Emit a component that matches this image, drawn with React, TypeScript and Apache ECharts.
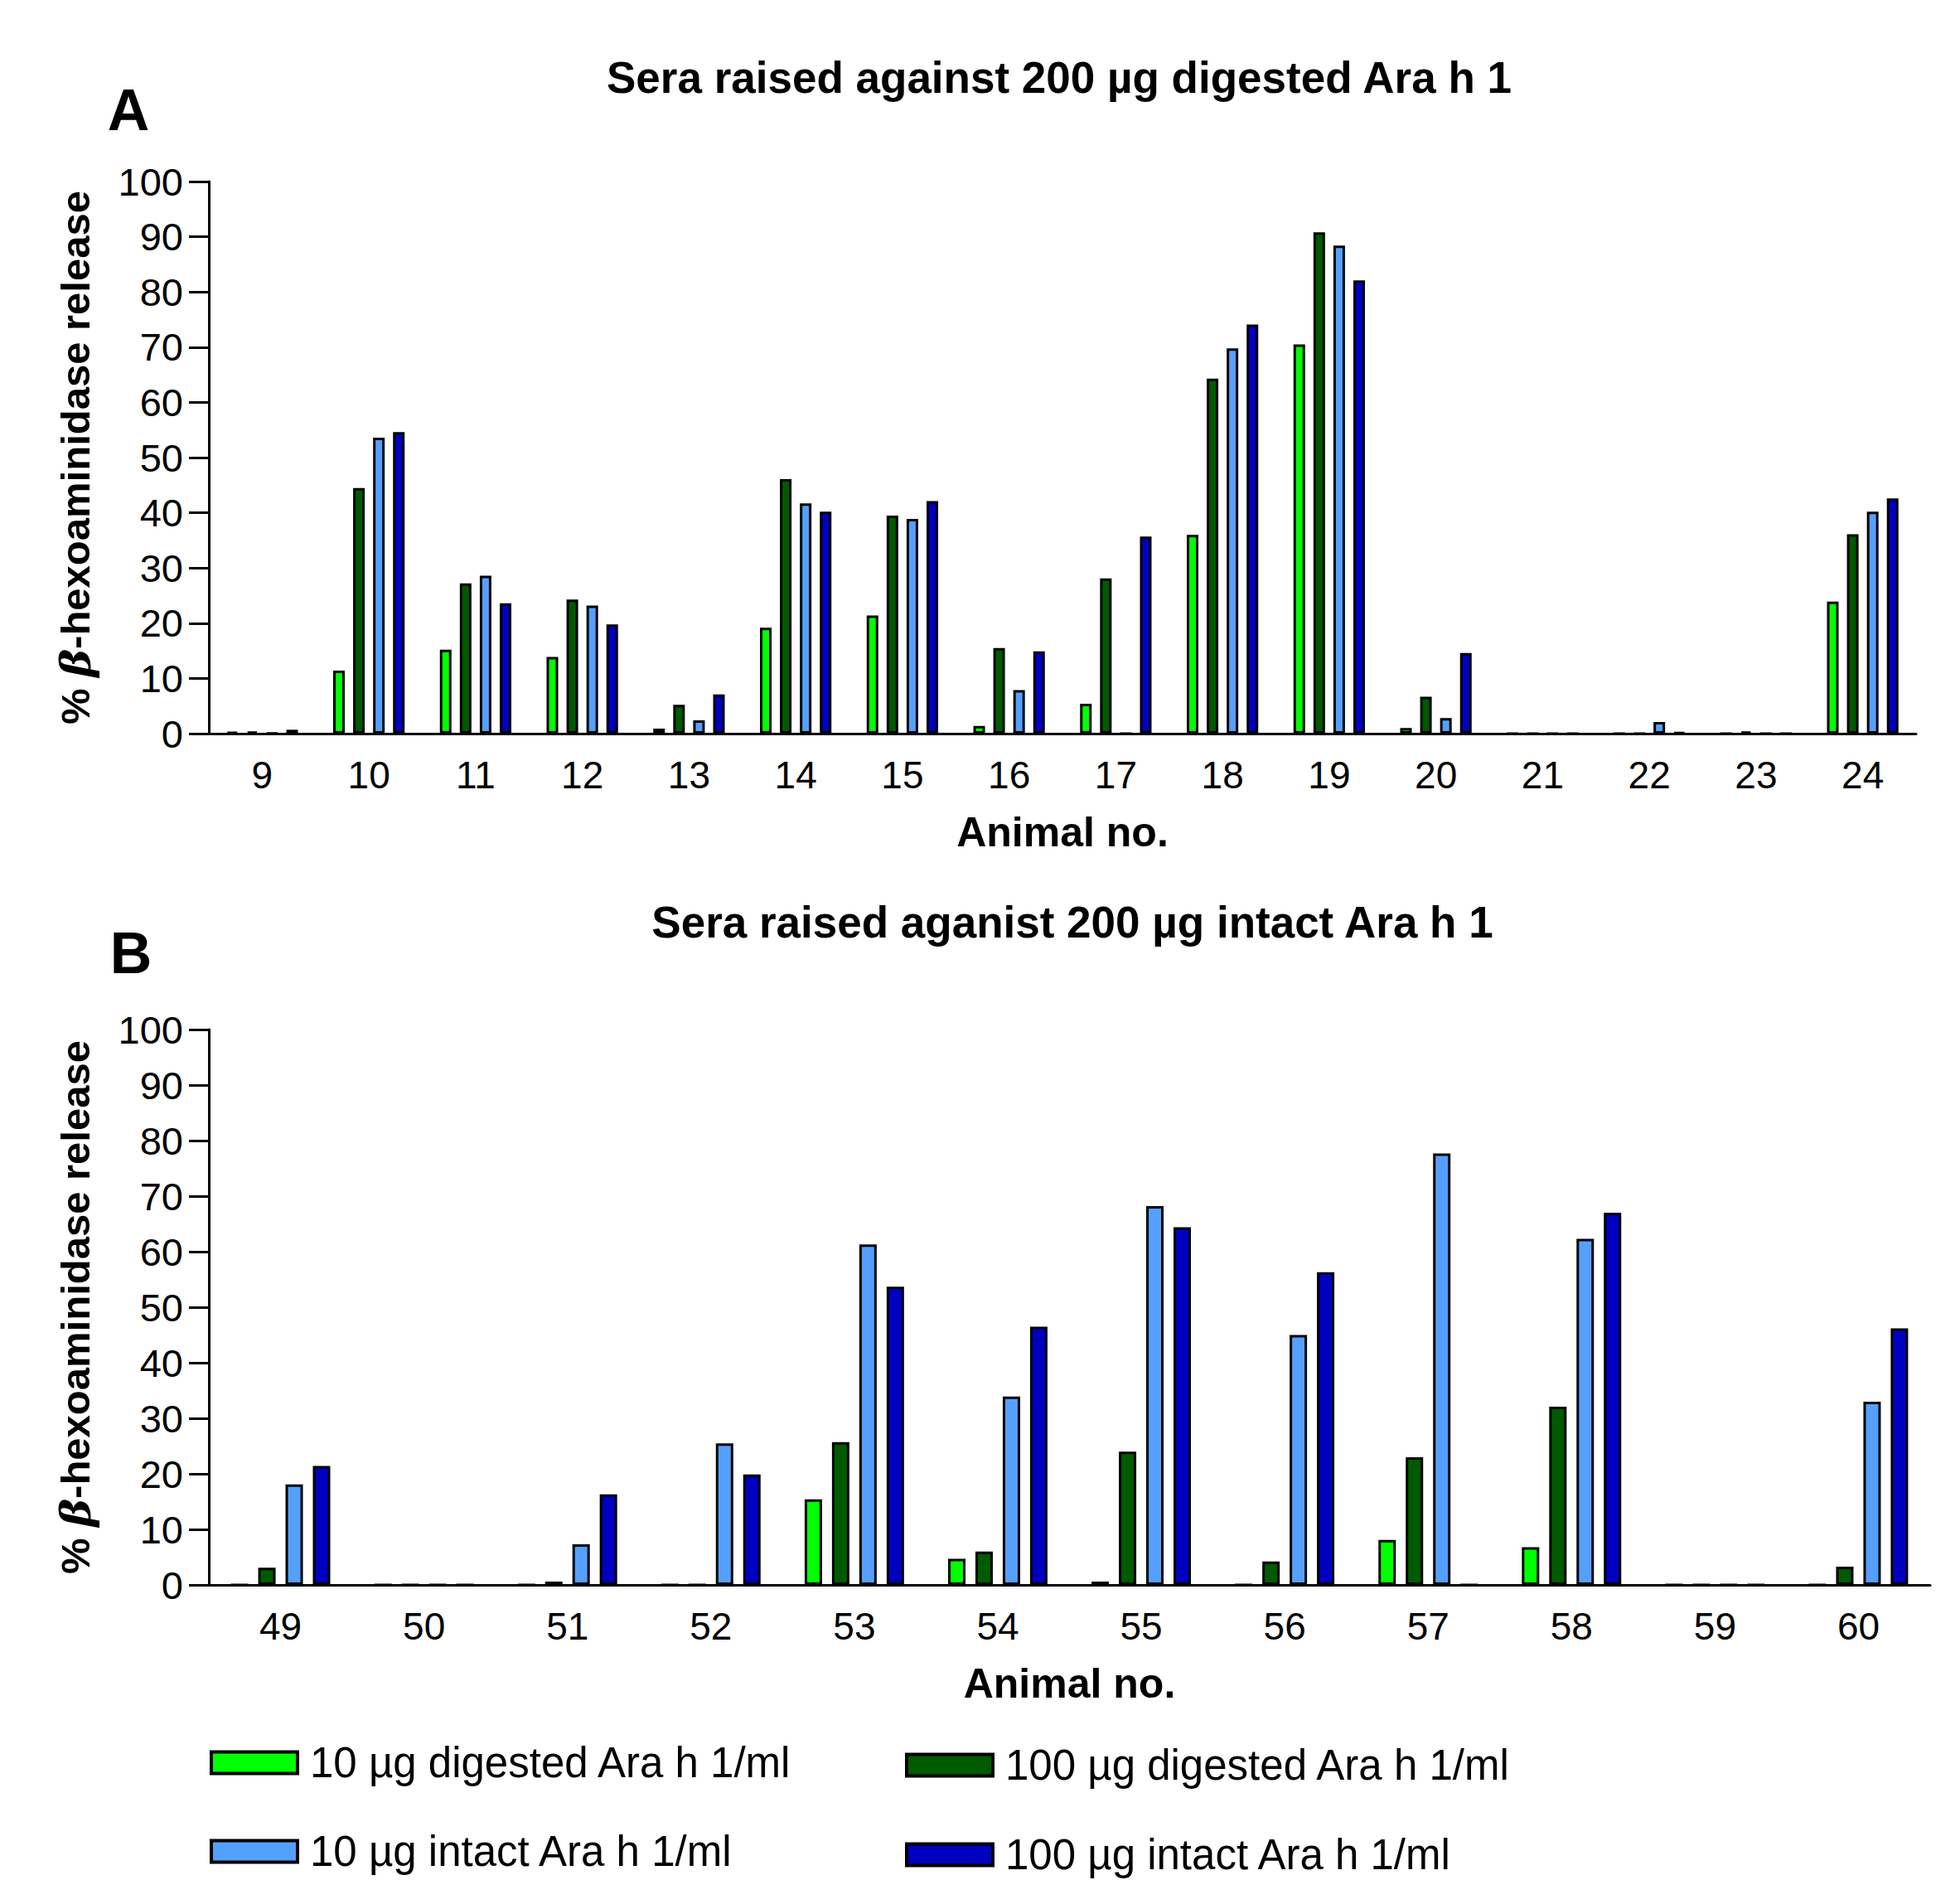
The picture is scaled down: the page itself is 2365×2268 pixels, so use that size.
import React, { useEffect, useRef } from "react";
import * as echarts from "echarts";

const FONT = '"Liberation Sans", Arial, Helvetica, sans-serif';

const categoriesA = ["9", "10", "11", "12", "13", "14", "15", "16", "17", "18", "19", "20", "21", "22", "23", "24"];
const categoriesB = ["49", "50", "51", "52", "53", "54", "55", "56", "57", "58", "59", "60"];

const seriesNames = [
  "10 µg digested Ara h 1/ml",
  "100 µg digested Ara h 1/ml",
  "10 µg intact Ara h 1/ml",
  "100 µg intact Ara h 1/ml",
];
const seriesColors = ["#00ff00", "#005a00", "#55a0ff", "#0000c0"];

// Panel A: sera raised against 200 µg digested Ara h 1
const digested10A = [0.3, 11.4, 15.2, 13.9, 0.9, 19.2, 21.4, 1.4, 5.4, 36.0, 70.5, 1.0, 0, 0, 0, 23.9];
const digested100A = [0.4, 44.5, 27.2, 24.3, 5.2, 46.1, 39.5, 15.5, 28.1, 64.3, 90.8, 6.7, 0, 0, 0.4, 36.1];
const intact10A = [0.1, 53.6, 28.6, 23.2, 2.4, 41.7, 38.9, 7.9, 0, 69.8, 88.4, 2.8, 0, 2.1, 0, 40.2];
const intact100A = [0.7, 54.6, 23.6, 19.8, 7.1, 40.2, 42.1, 14.9, 35.7, 74.1, 82.1, 14.6, 0, 0.2, 0, 42.6];

// Panel B: sera raised against 200 µg intact Ara h 1
const digested10B = [0, 0, 0, 0, 15.4, 4.7, 0.6, 0, 8.1, 6.8, 0, 0];
const digested100B = [3.1, 0, 0.6, 0, 25.7, 6.0, 24.0, 4.2, 23.0, 32.1, 0, 3.3];
const intact10B = [18.1, 0, 7.3, 25.5, 61.3, 33.9, 68.2, 45.0, 77.7, 62.3, 0, 33.0];
const intact100B = [21.4, 0, 16.3, 19.9, 53.7, 46.5, 64.4, 56.3, 0, 67.0, 0, 46.2];

const yTicks = { min: 0, max: 100, interval: 10 };

const titleA = "Sera raised against 200 µg digested Ara h 1";
const titleB = "Sera raised aganist 200 µg intact Ara h 1";
const xName = "Animal no.";
const yName = "% {b|β}-hexoaminidase release";

function makeXAxis(data: string[], gridIndex: number) {
  return {
    type: "category",
    gridIndex,
    data,
    axisLine: { lineStyle: { color: "#000", width: 3 } },
    axisTick: { show: false },
    axisLabel: { fontSize: 46, color: "#000", fontFamily: FONT, margin: 27 },
    name: xName,
    nameLocation: "middle",
    nameGap: 94,
    nameTextStyle: { fontSize: 50, fontWeight: "bold", color: "#000", fontFamily: FONT },
  };
}

function makeYAxis(gridIndex: number) {
  return {
    type: "value",
    gridIndex,
    min: yTicks.min,
    max: yTicks.max,
    interval: yTicks.interval,
    axisLine: { show: true, lineStyle: { color: "#000", width: 3 } },
    axisTick: { show: true, inside: false, length: 24, lineStyle: { color: "#000", width: 3 } },
    splitLine: { show: false },
    axisLabel: { fontSize: 47, color: "#000", fontFamily: FONT, margin: 31 },
    name: yName,
    nameLocation: "middle",
    nameRotate: 90,
    nameGap: 136,
    nameTextStyle: {
      fontSize: 49,
      fontWeight: "bold",
      color: "#000",
      fontFamily: FONT,
      rich: {
        b: { fontSize: 51, fontWeight: "bold", fontStyle: "italic", fontFamily: '"DejaVu Serif", serif', color: "#000" },
      },
    },
  };
}

function makeSeries(values: number[][], axisIndex: number, barWidth: number, barGap: string, bw: number) {
  return values.map((d, i) => ({
    type: "bar",
    name: seriesNames[i],
    data: d,
    xAxisIndex: axisIndex,
    yAxisIndex: axisIndex,
    barWidth,
    barGap,
    itemStyle: { color: seriesColors[i], borderColor: "#000", borderWidth: bw },
  }));
}

const legendLefts = [253, 1092, 253, 1092];
const legendTops = [2101, 2104, 2208, 2212];

export default function App() {
  const ref = useRef<HTMLDivElement>(null);
  useEffect(() => {
    document.body.style.margin = "0";
    const chart = echarts.init(ref.current as HTMLDivElement, null, { renderer: "svg" });
    const option = {
      animation: false,
      backgroundColor: "#fff",
      grid: [
        { left: 252, top: 219, width: 2060, height: 666 },
        { left: 252, top: 1242, width: 2077, height: 670 },
      ],
      xAxis: [makeXAxis(categoriesA, 0), makeXAxis(categoriesB, 1)],
      yAxis: [makeYAxis(0), makeYAxis(1)],
      series: [
        ...makeSeries([digested10A, digested100A, intact10A, intact100A], 0, 14, "72%", 3),
        ...makeSeries([digested10B, digested100B, intact10B, intact100B], 1, 21, "57%", 3),
      ],
      legend: seriesNames.map((n, i) => ({
        data: [n],
        left: legendLefts[i],
        top: legendTops[i],
        padding: 0,
        icon: "rect",
        itemWidth: 104,
        itemHeight: 26,
        selectedMode: false,
        itemStyle: { borderColor: "#000", borderWidth: 4 },
        textStyle: { fontSize: 51, color: "#000", fontFamily: FONT, padding: [0, 0, 0, 10] },
      })),
      graphic: [
        {
          type: "text",
          x: 1278,
          y: 93,
          style: { text: titleA, fontSize: 53, fontWeight: "bold", fontFamily: FONT, fill: "#000", align: "center", verticalAlign: "middle" },
        },
        {
          type: "text",
          x: 1294,
          y: 1112,
          style: { text: titleB, fontSize: 53, fontWeight: "bold", fontFamily: FONT, fill: "#000", align: "center", verticalAlign: "middle" },
        },
        {
          type: "text",
          x: 155,
          y: 133,
          style: { text: "A", fontSize: 70, fontWeight: "bold", fontFamily: FONT, fill: "#000", align: "center", verticalAlign: "middle" },
        },
        {
          type: "text",
          x: 158,
          y: 1150,
          style: { text: "B", fontSize: 70, fontWeight: "bold", fontFamily: FONT, fill: "#000", align: "center", verticalAlign: "middle" },
        },
      ],
    };
    chart.setOption(option as any);
    return () => chart.dispose();
  }, []);
  return <div ref={ref} style={{ width: 2365, height: 2268 }} />;
}
